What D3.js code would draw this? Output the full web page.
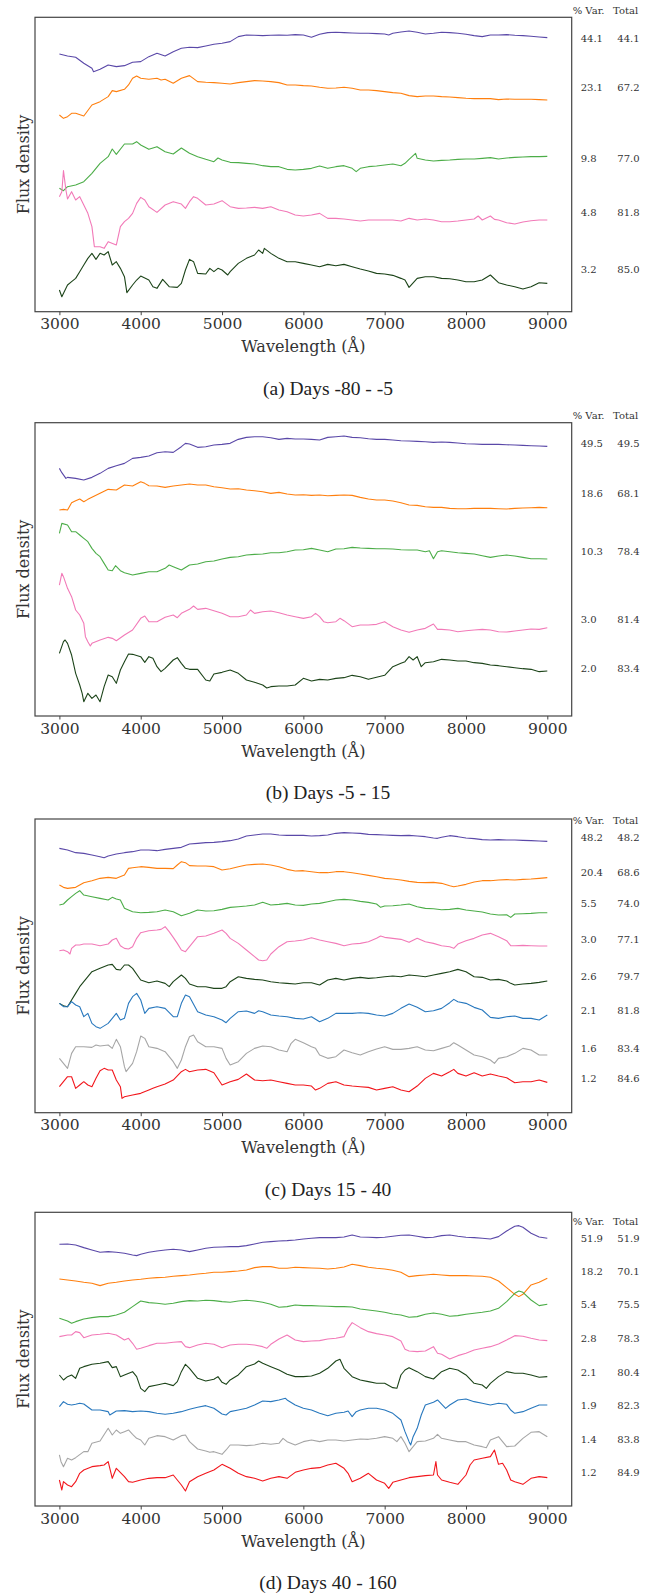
<!DOCTYPE html>
<html>
<head>
<meta charset="utf-8">
<script src="https://cdn.jsdelivr.net/npm/d3@7"></script>
<style>
  html, body { margin: 0; padding: 0; background: #fff; }
  svg { display: block; }
  .serif { font-family: "DejaVu Serif", "Liberation Serif", "Noto Serif", serif; }
  .times { font-family: "Liberation Serif", "Times New Roman", "DejaVu Serif", serif; }
</style>
</head>
<body>
<svg id="chart" width="659" height="1595"></svg>
<script>
// Principal component spectra (flux density, arbitrary offset units) vs wavelength in Å.
// Each series is a list of [wavelength, flux] samples.

// ---- Panel (a): Days -80 - -5 ----
const a_c1 = [[3000,838],[3100,832],[3200,828],[3300,810],[3400,795],[3420,785],[3500,792],[3600,805],[3700,800],[3800,803],[3900,813],[4000,815],[4100,830],[4200,840],[4300,832],[4400,845],[4500,855],[4600,858],[4700,857],[4800,862],[4900,867],[5000,870],[5100,875],[5200,890],[5300,895],[5400,894],[5500,893],[5600,894],[5700,895],[5800,894],[5900,896],[6000,895],[6100,888],[6200,897],[6300,902],[6400,903],[6500,902],[6600,901],[6700,900],[6800,900],[6900,899],[7000,898],[7050,895],[7100,900],[7200,904],[7300,907],[7400,903],[7500,898],[7600,900],[7700,903],[7800,902],[7900,900],[8000,897],[8100,893],[8200,890],[8300,895],[8400,895],[8500,896],[8600,894],[8700,893],[8800,891],[8900,889],[9000,887]];
const a_c2 = [[3000,655],[3050,645],[3100,650],[3150,660],[3200,660],[3300,652],[3400,685],[3500,695],[3600,710],[3650,728],[3700,725],[3800,732],[3850,745],[3900,765],[3950,772],[4000,765],[4100,762],[4200,765],[4250,760],[4300,762],[4400,750],[4500,765],[4600,773],[4700,755],[4800,753],[4900,752],[5000,750],[5100,748],[5200,752],[5300,755],[5400,758],[5500,757],[5600,755],[5700,752],[5800,745],[5900,745],[6000,743],[6100,742],[6200,738],[6300,735],[6400,736],[6500,738],[6600,735],[6700,730],[6800,730],[6900,728],[7000,725],[7100,722],[7200,720],[7300,713],[7400,710],[7500,712],[7600,712],[7700,710],[7800,709],[7900,707],[8000,705],[8100,704],[8200,704],[8300,704],[8400,701],[8500,703],[8600,702],[8700,702],[8800,702],[8900,701],[9000,700]];
const a_c3 = [[3000,435],[3050,428],[3100,440],[3200,445],[3300,455],[3400,480],[3500,510],[3600,530],[3650,553],[3700,537],[3800,568],[3900,568],[3950,575],[4000,565],[4100,552],[4200,560],[4300,545],[4400,538],[4500,556],[4600,540],[4700,530],[4800,522],[4900,515],[4950,526],[5000,520],[5100,513],[5200,512],[5300,510],[5400,508],[5500,503],[5600,500],[5700,500],[5800,492],[5900,490],[6000,492],[6100,495],[6200,502],[6300,495],[6400,500],[6500,503],[6600,495],[6650,485],[6700,495],[6800,500],[6900,502],[7000,505],[7100,508],[7200,503],[7250,510],[7300,522],[7380,540],[7400,525],[7500,520],[7600,517],[7700,519],[7800,520],[7900,522],[8000,523],[8100,523],[8200,525],[8300,527],[8400,523],[8500,526],[8600,528],[8700,529],[8800,530],[8900,530],[9000,531]];
const a_c4 = [[3000,410],[3030,425],[3050,488],[3080,430],[3100,403],[3150,425],[3200,400],[3250,410],[3300,385],[3350,360],[3400,320],[3430,260],[3500,260],[3550,255],[3600,275],[3700,265],[3750,320],[3800,335],[3850,345],[3900,360],[3950,390],[4000,408],[4050,400],[4100,380],[4200,363],[4300,385],[4400,395],[4500,388],[4550,375],[4600,395],[4650,410],[4700,405],[4800,385],[4900,388],[5000,398],[5100,380],[5200,375],[5300,376],[5400,378],[5500,375],[5600,380],[5700,370],[5800,365],[5900,355],[6000,352],[6100,355],[6200,360],[6300,345],[6400,345],[6500,343],[6600,340],[6700,337],[6800,340],[6900,340],[7000,340],[7100,340],[7200,337],[7300,345],[7400,340],[7500,343],[7600,340],[7700,335],[7800,335],[7900,337],[8000,340],[8100,343],[8150,352],[8200,340],[8300,352],[8350,342],[8400,340],[8500,332],[8600,328],[8700,334],[8800,338],[8900,340],[9000,340]];
const a_c5 = [[3000,130],[3030,110],[3100,145],[3150,155],[3200,165],[3250,185],[3300,205],[3350,225],[3400,240],[3450,222],[3500,240],[3550,235],[3600,245],[3650,205],[3700,215],[3750,195],[3800,170],[3830,122],[3900,145],[3950,160],[4000,172],[4100,160],[4150,140],[4200,135],[4270,162],[4350,140],[4450,138],[4500,150],[4550,190],[4600,222],[4650,215],[4700,180],[4800,178],[4850,195],[4900,185],[4950,195],[5000,190],[5070,175],[5100,185],[5200,210],[5300,225],[5400,235],[5450,250],[5500,240],[5520,255],[5600,240],[5700,225],[5800,215],[5900,215],[6000,210],[6100,205],[6200,200],[6300,207],[6400,203],[6500,207],[6600,200],[6700,193],[6800,187],[6900,180],[7000,178],[7100,174],[7200,165],[7250,160],[7300,138],[7400,165],[7500,170],[7600,170],[7700,165],[7800,164],[7900,160],[8000,155],[8100,155],[8200,160],[8300,175],[8400,152],[8500,145],[8600,140],[8700,133],[8800,140],[8900,152],[9000,150]];
const a_var   = ["44.1", "23.1", "9.8", "4.8", "3.2"];
const a_total = ["44.1", "67.2", "77.0", "81.8", "85.0"];
const a_level = [883, 736, 525, 364, 192];

// ---- Panel (b): Days -5 - 15 ----
const b_c1 = [[3000,795],[3030,782],[3080,765],[3100,768],[3200,765],[3300,760],[3400,768],[3500,780],[3600,795],[3700,803],[3800,810],[3900,825],[4000,828],[4100,832],[4200,842],[4300,845],[4400,843],[4500,860],[4550,870],[4600,868],[4700,858],[4800,860],[4900,865],[5000,867],[5100,870],[5200,882],[5300,888],[5400,890],[5500,890],[5600,887],[5700,882],[5800,885],[5900,883],[6000,883],[6100,882],[6200,880],[6300,888],[6400,890],[6500,892],[6600,888],[6700,887],[6800,884],[6900,882],[7000,882],[7100,880],[7200,878],[7300,877],[7400,876],[7500,875],[7600,873],[7700,874],[7800,873],[7900,871],[8000,869],[8100,868],[8200,867],[8300,867],[8400,867],[8500,866],[8600,865],[8700,864],[8800,863],[8900,862],[9000,861]];
const b_c2 = [[3000,670],[3050,672],[3100,670],[3150,692],[3200,698],[3250,703],[3300,695],[3350,702],[3400,708],[3500,720],[3600,732],[3700,730],[3800,745],[3900,742],[4000,755],[4050,750],[4100,743],[4200,742],[4300,738],[4400,742],[4500,745],[4600,748],[4700,745],[4800,745],[4900,740],[5000,737],[5100,733],[5200,734],[5300,730],[5400,728],[5500,725],[5600,720],[5700,723],[5800,718],[5900,715],[6000,716],[6100,714],[6200,715],[6300,713],[6400,714],[6500,715],[6600,714],[6700,708],[6800,703],[6900,700],[7000,700],[7100,697],[7200,692],[7300,685],[7400,684],[7500,680],[7600,678],[7700,678],[7800,675],[7900,674],[8000,674],[8100,675],[8200,675],[8300,675],[8400,674],[8500,673],[8600,675],[8700,676],[8800,677],[8900,678],[9000,677]];
const b_c3 = [[3000,600],[3030,630],[3100,625],[3150,605],[3200,605],[3250,595],[3300,585],[3350,575],[3400,555],[3450,540],[3500,530],[3550,510],[3600,490],[3650,488],[3690,503],[3750,488],[3800,482],[3900,475],[4000,480],[4100,485],[4200,485],[4300,495],[4350,505],[4400,500],[4500,490],[4600,505],[4700,508],[4800,515],[4900,517],[5000,523],[5100,528],[5200,530],[5300,535],[5400,537],[5500,538],[5600,542],[5700,542],[5800,545],[5900,550],[6000,551],[6100,555],[6200,550],[6300,545],[6400,553],[6500,554],[6600,558],[6700,556],[6800,555],[6900,554],[7000,554],[7100,553],[7200,551],[7300,550],[7400,550],[7500,545],[7550,548],[7600,524],[7650,545],[7700,548],[7800,545],[7900,542],[8000,540],[8100,538],[8200,533],[8300,528],[8400,532],[8500,535],[8600,532],[8700,528],[8800,524],[8900,524],[9000,523]];
const b_c4 = [[3000,445],[3030,480],[3050,470],[3100,435],[3150,410],[3200,370],[3250,355],[3300,330],[3320,290],[3350,275],[3380,262],[3400,270],[3500,280],[3600,288],[3650,285],[3700,278],[3800,295],[3900,310],[4000,345],[4050,352],[4100,335],[4200,335],[4300,348],[4400,355],[4450,347],[4500,360],[4600,372],[4650,382],[4700,372],[4800,375],[4900,368],[5000,360],[5100,350],[5200,350],[5300,355],[5350,370],[5400,360],[5500,365],[5600,367],[5700,362],[5800,355],[5900,350],[6000,345],[6100,350],[6150,360],[6200,350],[6250,335],[6300,332],[6400,335],[6450,345],[6500,338],[6600,320],[6700,325],[6800,325],[6900,327],[7000,335],[7050,327],[7100,320],[7200,310],[7300,303],[7400,310],[7500,315],[7600,328],[7650,312],[7700,312],[7800,310],[7900,305],[8000,308],[8100,310],[8200,312],[8300,310],[8400,305],[8500,304],[8600,307],[8700,310],[8800,313],[8900,312],[9000,317]];
const b_c5 = [[3000,240],[3050,275],[3070,280],[3100,270],[3150,235],[3200,180],[3250,145],[3280,120],[3300,95],[3350,120],[3400,105],[3450,115],[3500,95],[3550,140],[3600,175],[3650,170],[3700,150],[3750,190],[3800,215],[3850,238],[3900,237],[4000,230],[4050,213],[4100,230],[4150,225],[4200,200],[4250,185],[4300,195],[4400,220],[4450,227],[4500,210],[4550,195],[4600,192],[4700,192],[4800,160],[4850,157],[4900,178],[5000,183],[5100,190],[5200,180],[5300,160],[5400,153],[5500,145],[5550,136],[5600,140],[5700,142],[5800,142],[5900,145],[6000,165],[6100,157],[6200,162],[6300,160],[6400,165],[6500,167],[6600,174],[6700,170],[6800,162],[6900,168],[7000,174],[7100,200],[7200,210],[7250,215],[7300,230],[7350,220],[7400,230],[7450,200],[7500,212],[7600,215],[7700,222],[7800,220],[7900,217],[8000,217],[8100,212],[8200,210],[8300,205],[8400,203],[8500,200],[8600,197],[8700,194],[8800,192],[8900,185],[9000,187]];
const b_var   = ["49.5", "18.6", "10.3", "3.0", "2.0"];
const b_total = ["49.5", "68.1", "78.4", "81.4", "83.4"];
const b_level = [869, 720, 545, 343, 196];

// ---- Panel (c): Days 15 - 40 ----
const c_c1 = [[3000,855],[3100,850],[3200,842],[3300,840],[3400,835],[3500,830],[3550,827],[3600,832],[3700,838],[3800,842],[3900,845],[4000,850],[4100,850],[4200,848],[4300,852],[4400,855],[4500,858],[4600,868],[4700,870],[4800,872],[4900,873],[5000,875],[5100,878],[5200,883],[5300,892],[5400,895],[5500,898],[5600,898],[5700,895],[5800,894],[5900,894],[6000,894],[6100,892],[6200,893],[6300,895],[6400,900],[6500,902],[6600,901],[6700,900],[6800,897],[6900,896],[7000,895],[7100,894],[7200,893],[7300,894],[7400,892],[7500,890],[7600,886],[7650,885],[7700,888],[7800,893],[7900,890],[8000,886],[8100,884],[8200,881],[8300,880],[8400,881],[8500,880],[8600,880],[8700,879],[8800,878],[8900,877],[9000,876]];
const c_c2 = [[3000,745],[3050,738],[3100,735],[3200,738],[3300,752],[3400,758],[3500,765],[3600,768],[3700,765],[3800,775],[3850,795],[3900,797],[4000,800],[4100,798],[4200,795],[4300,795],[4400,794],[4450,805],[4500,815],[4550,812],[4600,803],[4700,802],[4800,802],[4900,800],[5000,790],[5100,794],[5200,800],[5300,805],[5400,807],[5500,808],[5600,805],[5700,800],[5800,792],[5900,787],[6000,788],[6100,785],[6200,782],[6300,782],[6400,785],[6500,785],[6600,782],[6700,778],[6800,774],[6900,770],[7000,765],[7100,763],[7200,760],[7300,756],[7400,753],[7500,752],[7600,753],[7700,750],[7800,743],[7850,740],[7900,742],[8000,747],[8100,754],[8200,758],[8300,758],[8400,760],[8500,761],[8600,760],[8700,762],[8800,763],[8900,765],[9000,767]];
const c_c3 = [[3000,685],[3050,688],[3100,700],[3150,710],[3200,720],[3250,728],[3300,715],[3400,710],[3500,705],[3600,700],[3650,708],[3700,703],[3750,700],[3800,675],[3900,665],[4000,662],[4100,663],[4200,665],[4300,670],[4400,665],[4500,653],[4600,660],[4700,670],[4800,667],[4900,668],[5000,672],[5100,678],[5200,680],[5300,682],[5400,685],[5500,693],[5600,685],[5700,687],[5800,690],[5900,685],[6000,684],[6100,688],[6200,690],[6300,695],[6400,700],[6500,702],[6600,700],[6700,696],[6800,693],[6900,688],[6950,678],[7000,682],[7100,683],[7200,685],[7300,688],[7400,680],[7500,675],[7600,674],[7700,671],[7800,672],[7900,675],[8000,670],[8100,667],[8200,664],[8300,658],[8400,655],[8500,656],[8550,648],[8600,658],[8700,659],[8800,660],[8900,662],[9000,662]];
const c_c4 = [[3000,548],[3050,550],[3100,545],[3130,538],[3150,555],[3200,565],[3250,565],[3300,568],[3400,568],[3500,563],[3600,568],[3650,580],[3700,585],[3750,563],[3800,555],[3850,553],[3900,560],[3950,585],[4000,602],[4100,608],[4200,610],[4250,612],[4300,620],[4350,605],[4400,588],[4450,570],[4500,550],[4550,545],[4600,560],[4650,575],[4700,590],[4800,592],[4900,600],[5000,610],[5050,600],[5100,585],[5200,570],[5300,550],[5400,530],[5450,520],[5500,518],[5550,520],[5600,538],[5700,560],[5800,575],[5900,577],[6000,580],[6100,587],[6200,580],[6300,575],[6400,570],[6500,563],[6600,568],[6700,570],[6800,575],[6900,585],[6950,592],[7000,588],[7100,585],[7200,582],[7250,578],[7300,573],[7400,585],[7500,575],[7600,570],[7700,563],[7800,560],[7850,555],[7900,568],[8000,578],[8100,585],[8200,595],[8300,600],[8400,590],[8500,578],[8550,563],[8600,563],[8700,564],[8800,563],[8900,562],[9000,562]];
const c_c5 = [[3000,390],[3050,383],[3100,380],[3150,400],[3200,420],[3250,440],[3300,455],[3400,485],[3500,495],[3600,505],[3650,507],[3700,492],[3750,490],[3800,505],[3850,505],[3900,495],[4000,460],[4100,452],[4200,457],[4300,450],[4350,440],[4400,455],[4500,475],[4550,465],[4600,448],[4700,440],[4800,440],[4900,435],[5000,435],[5050,440],[5100,455],[5200,470],[5300,465],[5400,462],[5500,460],[5600,455],[5700,452],[5800,450],[5900,448],[6000,452],[6100,452],[6200,445],[6300,460],[6400,465],[6500,460],[6600,465],[6700,468],[6800,465],[6900,467],[7000,470],[7100,472],[7200,470],[7300,475],[7400,473],[7500,470],[7600,475],[7700,480],[7800,485],[7900,492],[8000,485],[8100,470],[8200,468],[8300,460],[8400,462],[8500,457],[8550,450],[8600,445],[8700,448],[8800,450],[8900,453],[9000,457]];
const c_c6 = [[3000,390],[3050,380],[3100,380],[3150,395],[3200,385],[3250,380],[3300,350],[3350,360],[3400,330],[3450,320],[3500,315],[3600,330],[3650,345],[3700,360],[3750,340],[3800,345],[3850,390],[3900,410],[3950,420],[4000,400],[4050,360],[4100,375],[4200,380],[4300,375],[4400,350],[4450,350],[4500,390],[4550,415],[4600,410],[4700,365],[4800,355],[4900,350],[5000,340],[5050,332],[5100,345],[5200,365],[5300,367],[5400,360],[5450,368],[5500,365],[5600,355],[5700,352],[5800,350],[5900,345],[6000,343],[6100,350],[6200,335],[6300,345],[6400,360],[6500,360],[6600,360],[6700,362],[6800,360],[6900,355],[7000,352],[7100,360],[7200,375],[7300,388],[7400,378],[7500,365],[7600,368],[7700,375],[7800,392],[7850,402],[7900,395],[8000,390],[8100,378],[8200,370],[8300,348],[8400,345],[8500,350],[8600,352],[8700,345],[8800,345],[8900,340],[9000,355]];
const c_c7 = [[3000,225],[3050,210],[3100,195],[3150,240],[3200,260],[3300,260],[3400,258],[3450,265],[3500,262],[3600,265],[3650,255],[3700,282],[3750,260],[3800,200],[3820,185],[3900,210],[3950,245],[4000,292],[4050,285],[4100,260],[4200,255],[4300,245],[4400,215],[4450,195],[4500,220],[4550,260],[4600,290],[4650,295],[4700,275],[4800,260],[4900,260],[5000,255],[5050,225],[5100,205],[5200,215],[5300,240],[5400,255],[5500,262],[5600,260],[5700,250],[5800,245],[5850,270],[5900,282],[6000,272],[6100,260],[6150,255],[6200,235],[6300,225],[6400,230],[6500,250],[6600,242],[6700,235],[6800,245],[6900,253],[7000,260],[7100,252],[7200,252],[7300,255],[7400,260],[7500,250],[7600,248],[7700,255],[7800,262],[7850,272],[7900,265],[8000,250],[8100,235],[8200,230],[8300,220],[8350,210],[8400,225],[8500,230],[8600,240],[8700,255],[8800,250],[8900,235],[9000,235]];
const c_c8 = [[3000,140],[3050,155],[3100,170],[3150,170],[3200,135],[3250,145],[3300,155],[3350,145],[3400,140],[3450,165],[3500,188],[3550,195],[3600,190],[3650,190],[3700,160],[3750,140],[3770,105],[3800,110],[3900,115],[4000,120],[4100,130],[4150,135],[4200,140],[4300,148],[4400,160],[4500,185],[4550,192],[4600,185],[4700,190],[4800,192],[4900,182],[5000,145],[5100,155],[5200,162],[5300,178],[5400,160],[5500,158],[5600,160],[5700,155],[5800,150],[5900,145],[6000,145],[6100,142],[6150,130],[6200,135],[6300,150],[6400,155],[6500,145],[6600,142],[6700,140],[6800,138],[6900,130],[7000,135],[7100,140],[7200,130],[7300,125],[7400,142],[7500,165],[7600,180],[7700,172],[7800,185],[7850,192],[7900,180],[8000,172],[8100,182],[8200,172],[8300,178],[8400,172],[8500,167],[8600,152],[8700,155],[8800,155],[8900,160],[9000,153]];
const c_var   = ["48.2", "20.4", "5.5", "3.0", "2.6", "2.1", "1.6", "1.2"];
const c_total = ["48.2", "68.6", "74.0", "77.1", "79.7", "81.8", "83.4", "84.6"];
const c_level = [887, 782, 689, 581, 471, 370, 255, 165];

// ---- Panel (d): Days 40 - 160 ----
const d_c1 = [[3000,852],[3100,853],[3200,850],[3300,842],[3400,835],[3500,828],[3600,830],[3700,828],[3800,825],[3900,820],[3950,818],[4000,822],[4100,828],[4200,832],[4300,835],[4400,837],[4500,835],[4600,830],[4700,835],[4800,840],[4900,843],[5000,844],[5100,845],[5200,845],[5300,848],[5400,853],[5500,858],[5600,860],[5700,862],[5800,863],[5900,865],[6000,868],[6100,870],[6200,872],[6300,872],[6400,872],[6500,874],[6600,880],[6700,874],[6800,873],[6900,872],[7000,873],[7100,876],[7200,879],[7300,880],[7400,876],[7500,872],[7600,873],[7700,878],[7800,880],[7900,876],[8000,873],[8100,872],[8200,870],[8300,868],[8400,875],[8500,892],[8600,906],[8650,908],[8700,903],[8800,885],[8900,874],[9000,870]];
const d_c2 = [[3000,748],[3100,745],[3200,742],[3300,738],[3400,735],[3500,728],[3600,735],[3700,738],[3800,742],[3900,745],[4000,747],[4100,750],[4200,752],[4300,753],[4400,756],[4500,758],[4600,760],[4700,763],[4800,765],[4900,768],[5000,768],[5100,770],[5200,772],[5300,775],[5400,782],[5500,785],[5600,785],[5700,780],[5800,780],[5900,783],[6000,782],[6100,781],[6200,780],[6300,778],[6400,780],[6500,784],[6600,792],[6700,788],[6800,783],[6900,780],[7000,778],[7100,774],[7200,768],[7300,755],[7400,758],[7500,760],[7600,762],[7700,760],[7800,758],[7900,758],[8000,758],[8100,757],[8200,756],[8300,753],[8400,742],[8500,722],[8600,702],[8650,695],[8700,702],[8800,730],[8900,738],[9000,750]];
const d_c3 = [[3000,630],[3100,622],[3150,615],[3200,620],[3300,628],[3400,632],[3500,635],[3600,635],[3700,640],[3800,648],[3900,665],[4000,682],[4100,677],[4200,675],[4300,672],[4400,675],[4500,680],[4600,683],[4700,682],[4800,684],[4900,683],[5000,680],[5100,678],[5200,682],[5300,684],[5400,682],[5500,678],[5600,672],[5700,663],[5800,665],[5900,670],[6000,668],[6100,668],[6200,667],[6300,666],[6400,665],[6500,665],[6600,664],[6700,658],[6800,655],[6900,652],[7000,648],[7100,643],[7200,640],[7300,633],[7400,635],[7500,642],[7600,646],[7700,642],[7800,636],[7900,638],[8000,642],[8100,645],[8200,648],[8300,652],[8400,660],[8500,680],[8600,705],[8650,712],[8700,708],[8800,685],[8900,668],[9000,672]];
const d_c4 = [[3000,575],[3100,580],[3150,580],[3200,590],[3250,587],[3300,572],[3400,580],[3500,582],[3600,585],[3700,580],[3800,565],[3850,570],[3900,555],[3950,537],[4000,540],[4100,548],[4200,555],[4300,555],[4400,558],[4500,560],[4550,545],[4600,542],[4700,550],[4800,555],[4900,552],[5000,542],[5100,550],[5200,552],[5300,552],[5400,550],[5500,545],[5550,540],[5600,552],[5700,568],[5800,580],[5900,565],[6000,560],[6100,562],[6200,563],[6300,568],[6400,570],[6500,575],[6550,600],[6600,617],[6700,602],[6800,590],[6900,584],[7000,580],[7100,575],[7200,562],[7250,537],[7300,532],[7400,530],[7500,532],[7600,545],[7650,525],[7700,522],[7800,508],[7900,518],[8000,525],[8100,535],[8200,540],[8300,545],[8400,553],[8500,565],[8600,578],[8700,576],[8800,570],[8900,565],[9000,563]];
const d_c5 = [[3000,460],[3050,445],[3100,455],[3150,460],[3200,450],[3250,480],[3300,485],[3400,492],[3500,495],[3600,500],[3650,482],[3700,485],[3750,455],[3800,460],[3900,470],[3950,455],[4000,420],[4050,410],[4100,425],[4200,430],[4300,435],[4400,428],[4450,440],[4500,470],[4550,492],[4600,480],[4700,450],[4800,442],[4900,447],[4950,455],[5000,438],[5050,432],[5100,445],[5200,460],[5300,485],[5400,493],[5450,502],[5500,495],[5600,485],[5700,475],[5800,462],[5900,455],[6000,455],[6100,457],[6200,465],[6300,480],[6400,502],[6450,507],[6500,480],[6600,455],[6700,445],[6800,440],[6900,435],[7000,435],[7100,422],[7150,420],[7200,460],[7250,475],[7300,482],[7400,470],[7500,455],[7600,448],[7700,470],[7800,480],[7900,475],[8000,460],[8100,435],[8200,430],[8250,420],[8300,435],[8400,455],[8500,470],[8600,465],[8700,465],[8800,460],[8900,453],[9000,455]];
const d_c6 = [[3000,365],[3050,380],[3100,372],[3150,370],[3200,372],[3250,375],[3300,373],[3400,355],[3500,355],[3600,350],[3620,340],[3700,352],[3800,353],[3900,350],[4000,352],[4100,350],[4200,345],[4300,342],[4400,345],[4500,350],[4600,357],[4700,363],[4800,368],[4900,360],[5000,343],[5050,340],[5100,350],[5200,355],[5300,360],[5400,370],[5500,382],[5600,380],[5700,385],[5780,390],[5800,385],[5900,370],[6000,360],[6100,355],[6200,345],[6300,338],[6400,345],[6500,348],[6550,352],[6600,335],[6650,350],[6700,355],[6800,360],[6900,360],[7000,355],[7100,345],[7200,325],[7250,290],[7300,260],[7320,250],[7350,275],[7400,300],[7450,340],[7500,370],[7600,378],[7650,385],[7750,360],[7800,370],[7900,385],[8000,388],[8100,380],[8200,375],[8300,370],[8400,375],[8500,372],[8550,355],[8600,345],[8700,350],[8800,360],[8900,370],[9000,370]];
const d_c7 = [[3000,220],[3020,200],[3050,185],[3100,210],[3150,205],[3200,212],[3300,230],[3350,230],[3400,255],[3500,262],[3600,300],[3650,280],[3700,295],[3750,285],[3800,290],[3850,295],[3900,282],[3950,270],[4000,265],[4050,250],[4100,270],[4200,278],[4300,275],[4400,265],[4500,278],[4550,280],[4600,260],[4700,238],[4800,232],[4850,228],[4900,230],[5000,222],[5050,235],[5100,250],[5200,250],[5300,248],[5400,250],[5500,255],[5600,252],[5700,255],[5750,270],[5800,260],[5900,250],[6000,260],[6100,265],[6200,260],[6300,265],[6400,265],[6500,262],[6600,265],[6700,268],[6800,267],[6900,270],[7000,275],[7100,270],[7150,260],[7200,275],[7250,255],[7300,230],[7350,245],[7400,260],[7500,262],[7600,270],[7650,282],[7700,270],[7800,265],[7900,260],[8000,260],[8100,250],[8200,245],[8250,242],[8300,265],[8400,275],[8450,260],[8500,245],[8600,247],[8700,270],[8800,288],[8900,290],[9000,275]];
const d_c8 = [[3000,145],[3030,115],[3050,140],[3100,130],[3150,125],[3200,140],[3250,165],[3300,175],[3400,185],[3500,188],[3550,190],[3600,200],[3650,150],[3700,180],[3800,155],[3850,140],[3900,138],[4000,145],[4100,150],[4200,152],[4300,152],[4400,160],[4450,145],[4500,130],[4550,112],[4600,140],[4700,155],[4800,165],[4900,175],[5000,192],[5100,180],[5200,165],[5300,155],[5400,150],[5500,142],[5600,150],[5700,155],[5800,150],[5900,168],[6000,175],[6100,180],[6200,182],[6300,190],[6400,195],[6500,180],[6550,165],[6600,140],[6700,150],[6800,165],[6900,145],[7000,135],[7050,120],[7100,138],[7200,145],[7300,152],[7400,155],[7500,158],[7600,160],[7630,200],[7650,160],[7700,145],[7800,138],[7900,132],[8000,160],[8050,190],[8100,205],[8200,210],[8300,215],[8350,235],[8400,192],[8450,195],[8500,175],[8550,145],[8600,140],[8700,132],[8800,150],[8900,155],[9000,152]];
const d_var   = ["51.9", "18.2", "5.4", "2.8", "2.1", "1.9", "1.4", "1.2"];
const d_total = ["51.9", "70.1", "75.5", "78.3", "80.4", "82.3", "83.8", "84.9"];
const d_level = [870, 770, 670, 568, 468, 367, 267, 167];

const seriesColors = ["#5a48a8", "#ff7f0e", "#4cad48", "#f27ab8", "#1c4419", "#2878be", "#a6a6a6", "#f2161c"];
const xTicks = [3000, 4000, 5000, 6000, 7000, 8000, 9000];
const xDomain = [2700, 9300];

const panels = [
  { caption: "(a) Days -80 - -5", top: 17.3,  bottom: 311.7, yDomain: [65, 948], headerLevel: 967,
    series: [a_c1, a_c2, a_c3, a_c4, a_c5], pvar: a_var, total: a_total, level: a_level },
  { caption: "(b) Days -5 - 15",  top: 422.7, bottom: 716,   yDomain: [52, 932], headerLevel: 955,
    series: [b_c1, b_c2, b_c3, b_c4, b_c5], pvar: b_var, total: b_total, level: b_level },
  { caption: "(c) Days 15 - 40",  top: 819,   bottom: 1112.7, yDomain: [62, 943], headerLevel: 938,
    series: [c_c1, c_c2, c_c3, c_c4, c_c5, c_c6, c_c7, c_c8], pvar: c_var, total: c_total, level: c_level },
  { caption: "(d) Days 40 - 160", top: 1212.3, bottom: 1506, yDomain: [67, 948], headerLevel: 920,
    series: [d_c1, d_c2, d_c3, d_c4, d_c5, d_c6, d_c7, d_c8], pvar: d_var, total: d_total, level: d_level }
];

const svg = d3.select("#chart");
const left = 35, right = 571.7;

const x = d3.scaleLinear().domain(xDomain).range([left, right]);

panels.forEach(p => {
  const y = d3.scaleLinear().domain(p.yDomain).range([p.bottom, p.top]);
  const g = svg.append("g");

  const line = d3.line().x(d => x(d[0])).y(d => y(d[1]));
  p.series.forEach((s, i) => {
    g.append("path")
      .datum(s)
      .attr("d", line)
      .attr("fill", "none")
      .attr("stroke", seriesColors[i])
      .attr("stroke-width", 1.1)
      .attr("stroke-linejoin", "round");
  });

  // frame
  g.append("rect")
    .attr("x", left).attr("y", p.top)
    .attr("width", right - left).attr("height", p.bottom - p.top)
    .attr("fill", "none").attr("stroke", "#444").attr("stroke-width", 1.2);

  // x axis
  const ax = g.append("g")
    .attr("transform", `translate(0,${p.bottom})`)
    .call(d3.axisBottom(x).tickValues(xTicks).tickSize(3.5).tickPadding(3).tickFormat(d3.format("d")));
  ax.attr("font-family", null).attr("font-size", null);
  ax.select(".domain").remove();
  ax.selectAll("line").attr("stroke", "#444").attr("stroke-width", 1);
  ax.selectAll("text")
    .attr("class", "serif").style("font-size", "15.5px").attr("fill", "#333");

  g.append("text")
    .attr("class", "serif")
    .attr("x", (left + right) / 2).attr("y", p.bottom + 35)
    .attr("text-anchor", "middle").attr("dominant-baseline", "central")
    .style("font-size", "16px").attr("fill", "#333")
    .text("Wavelength (Å)");

  g.append("text")
    .attr("class", "serif")
    .attr("transform", `translate(23,${(p.top + p.bottom) / 2}) rotate(-90)`)
    .attr("text-anchor", "middle").attr("dominant-baseline", "central")
    .style("font-size", "16px").attr("fill", "#333")
    .text("Flux density");

  g.append("text")
    .attr("class", "times")
    .attr("x", 328).attr("y", p.bottom + 76.5)
    .attr("text-anchor", "middle").attr("dominant-baseline", "central")
    .style("font-size", "19.5px").attr("fill", "#222")
    .text(p.caption);

  // explained-variance table
  const small = (sel) => sel.attr("class", "serif").style("font-size", "10px")
    .attr("fill", "#333").attr("dominant-baseline", "central");
  g.append("text").attr("x", 572.7).attr("y", y(p.headerLevel)).text("% Var.").call(small);
  g.append("text").attr("x", 613).attr("y", y(p.headerLevel)).text("Total").call(small);
  p.pvar.forEach((v, i) => {
    g.append("text").attr("x", 580.7).attr("y", y(p.level[i])).text(v).call(small);
    g.append("text").attr("x", 617.3).attr("y", y(p.level[i])).text(p.total[i]).call(small);
  });
});
</script>
</body>
</html>
